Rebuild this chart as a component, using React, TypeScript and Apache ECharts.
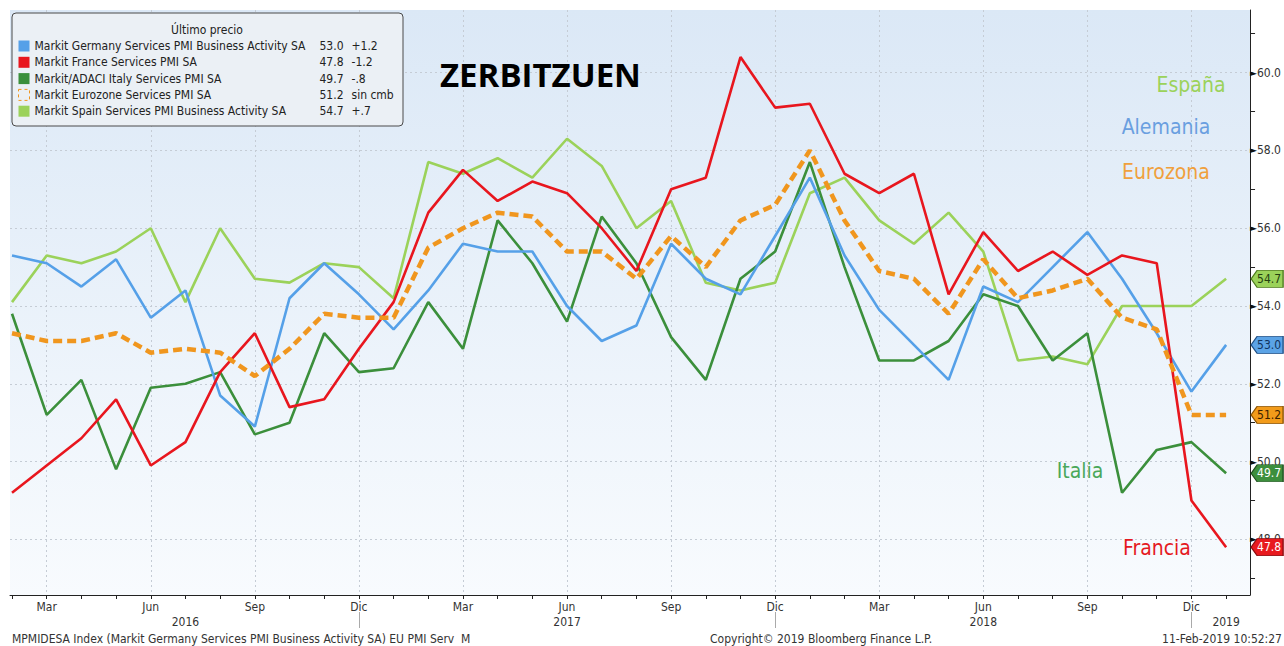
import React, { useEffect, useRef } from 'react';
import * as echarts from 'echarts';

const categories = [
  'Feb 2016', 'Mar 2016', 'Abr 2016', 'May 2016', 'Jun 2016', 'Jul 2016', 'Ago 2016', 'Sep 2016', 'Oct 2016', 'Nov 2016', 'Dic 2016',
  'Ene 2017', 'Feb 2017', 'Mar 2017', 'Abr 2017', 'May 2017', 'Jun 2017', 'Jul 2017', 'Ago 2017', 'Sep 2017', 'Oct 2017', 'Nov 2017', 'Dic 2017',
  'Ene 2018', 'Feb 2018', 'Mar 2018', 'Abr 2018', 'May 2018', 'Jun 2018', 'Jul 2018', 'Ago 2018', 'Sep 2018', 'Oct 2018', 'Nov 2018', 'Dic 2018',
  'Ene 2019',
];

const germany = [55.3, 55.1, 54.5, 55.2, 53.7, 54.4, 51.7, 50.9, 54.2, 55.1, 54.3, 53.4, 54.4, 55.6, 55.4, 55.4, 54.0, 53.1, 53.5, 55.6, 54.7, 54.3, 55.8, 57.3, 55.3, 53.9, 53.0, 52.1, 54.5, 54.1, 55.0, 55.9, 54.7, 53.3, 51.8, 53.0];
const france = [49.2, 49.9, 50.6, 51.6, 49.9, 50.5, 52.3, 53.3, 51.4, 51.6, 52.9, 54.1, 56.4, 57.5, 56.7, 57.2, 56.9, 56.0, 54.9, 57.0, 57.3, 60.4, 59.1, 59.2, 57.4, 56.9, 57.4, 54.3, 55.9, 54.9, 55.4, 54.8, 55.3, 55.1, 49.0, 47.8];
const italy = [53.8, 51.2, 52.1, 49.8, 51.9, 52.0, 52.3, 50.7, 51.0, 53.3, 52.3, 52.4, 54.1, 52.9, 56.2, 55.1, 53.6, 56.3, 55.1, 53.2, 52.1, 54.7, 55.4, 57.7, 55.0, 52.6, 52.6, 53.1, 54.3, 54.0, 52.6, 53.3, 49.2, 50.3, 50.5, 49.7];
const eurozone = [53.3, 53.1, 53.1, 53.3, 52.8, 52.9, 52.8, 52.2, 52.9, 53.8, 53.7, 53.7, 55.5, 56.0, 56.4, 56.3, 55.4, 55.4, 54.7, 55.8, 55.0, 56.2, 56.6, 58.0, 56.2, 54.9, 54.7, 53.8, 55.2, 54.2, 54.4, 54.7, 53.7, 53.4, 51.2, 51.2];
const spain = [54.1, 55.3, 55.1, 55.4, 56.0, 54.1, 56.0, 54.7, 54.6, 55.1, 55.0, 54.2, 57.7, 57.4, 57.8, 57.3, 58.3, 57.6, 56.0, 56.7, 54.6, 54.4, 54.6, 56.9, 57.3, 56.2, 55.6, 56.4, 55.4, 52.6, 52.7, 52.5, 54.0, 54.0, 54.0, 54.7];

const seriesNames = [
  'Markit Germany Services PMI Business Activity SA',
  'Markit France Services PMI SA',
  'Markit/ADACI Italy Services PMI SA',
  'Markit Eurozone Services PMI SA',
  'Markit Spain Services PMI Business Activity SA',
];
const lastPrices = ['53.0', '47.8', '49.7', '51.2', '54.7'];
const changes = ['+1.2', '-1.2', '-.8', 'sin cmb', '+.7'];

const yLabelValues = [48, 50, 52, 54, 56, 58, 60];
const yMinorTicks = [47, 49, 51, 53, 55, 57, 59, 61];
const quarterMonths = ['Mar', 'Jun', 'Sep', 'Dic'];
const yearLabelIdx = [5, 16, 28, 35];
const yearDividerIdx = [10, 22, 34];

const countryLabels = ['España', 'Alemania', 'Eurozona', 'Italia', 'Francia'];

const FONT = '"DejaVu Sans Condensed", "Liberation Sans Narrow", "DejaVu Sans", sans-serif';
const TAG_PATH = 'path://M0,8.5L6,0L32,0L32,17L6,17Z';

export default function App() {
  const ref = useRef<HTMLDivElement>(null);

  useEffect(() => {
    if (!ref.current) return;
    const chart = echarts.init(ref.current, undefined, { renderer: 'svg', width: 1284, height: 646 });

    const idx = categories.map((_, i) => i);
    const quarterIdx = idx.filter((i) => quarterMonths.includes(categories[i].split(' ')[0]));
    const labelIdx = Array.from(new Set([...quarterIdx, ...yearLabelIdx])).sort((a, b) => a - b);

    const xMin = -0.058;
    const xMax = 35.69;
    const yMin = 46.57;
    const yMax = 61.61;

    const colors = ['#55a0e8', '#e8161e', '#3b8f3b', '#f0961e', '#9bd25a'];
    const tagFill = ['#5ba3e6', '#e81a1f', '#3d8f3d', '#f29b1a', '#9bd25a'];
    const tagBorder = ['#1f4f85', '#8a0c10', '#1d4d1d', '#8a5200', '#4d7a1c'];
    const tagText = ['#10335e', '#ffffff', '#ffffff', '#3a2200', '#244010'];
    const allData = [germany, france, italy, eurozone, spain];

    const mkSeries = (i: number) => ({
      name: seriesNames[i],
      type: 'line',
      xAxisIndex: 0,
      yAxisIndex: 0,
      data: allData[i].map((v, k) => [k, v]),
      showSymbol: false,
      symbol: 'none',
      clip: false,
      z: i === 3 ? 6 : 3,
      lineStyle: {
        color: colors[i],
        width: i === 3 ? 4.5 : 2.6,
        type: i === 3 ? [9, 5] : 'solid',
      },
      itemStyle: { color: colors[i] },
      markPoint: {
        silent: true,
        symbol: TAG_PATH,
        symbolSize: [32, 17],
        symbolOffset: [41, 0],
        z: 8,
        itemStyle: { color: tagFill[i], borderColor: tagBorder[i], borderWidth: 1 },
        label: {
          show: true,
          position: 'inside',
          offset: [2, 0],
          formatter: (p: any) => Number(p.value).toFixed(1),
          color: tagText[i],
          fontSize: 12,
          fontFamily: FONT,
        },
        data: [{ coord: [allData[i].length - 1, allData[i][allData[i].length - 1]], value: allData[i][allData[i].length - 1] }],
      },
    });

    const xBase = { type: 'value', min: xMin, max: xMax, gridIndex: 0 };
    const yBase = { type: 'value', min: yMin, max: yMax, gridIndex: 0, position: 'right' };

    const option: any = {
      animation: false,
      grid: {
        left: 10,
        right: 33,
        top: 10,
        bottom: 51,
        show: true,
        borderWidth: 0,
        backgroundColor: new echarts.graphic.LinearGradient(0, 0, 0, 1, [
          { offset: 0, color: '#dbe8f6' },
          { offset: 1, color: '#f8fbfe' },
        ]),
      },
      xAxis: [
        {
          ...xBase,
          position: 'bottom',
          axisLine: { show: true, onZero: false, lineStyle: { color: '#222', width: 1 } },
          axisTick: { show: true, customValues: idx, length: 4, lineStyle: { color: '#222' } },
          axisLabel: {
            customValues: labelIdx,
            margin: 4,
            color: '#333',
            fontSize: 12,
            lineHeight: 15,
            fontFamily: FONT,
            formatter: (v: number) => {
              const i = Math.round(v);
              const parts = categories[i].split(' ');
              const top = quarterIdx.includes(i) ? parts[0] : ' ';
              return yearLabelIdx.includes(i) ? top + '\n' + parts[1] : top;
            },
          },
          splitLine: { show: false },
        },
        {
          ...xBase,
          position: 'bottom',
          offset: 17,
          axisLine: { show: false, onZero: false },
          axisTick: { show: true, customValues: yearDividerIdx, length: 16, lineStyle: { color: '#aaa' } },
          axisLabel: { show: false },
          splitLine: { show: false },
        },
        {
          ...xBase,
          position: 'top',
          axisLine: { show: false, onZero: false },
          axisTick: { show: false, customValues: quarterIdx },
          axisLabel: { show: false },
          splitLine: { show: true, lineStyle: { color: '#c5ccd5', width: 1, type: [2, 3] } },
        },
      ],
      yAxis: [
        {
          ...yBase,
          axisLine: { show: true, onZero: false, lineStyle: { color: '#222', width: 1 } },
          axisTick: { show: true, customValues: yMinorTicks, length: 5, lineStyle: { color: '#222' } },
          axisLabel: {
            customValues: yLabelValues,
            margin: 0,
            color: '#333',
            fontSize: 12,
            fontFamily: FONT,
            formatter: (v: number) => '{a|►}' + v.toFixed(1),
            rich: { a: { fontSize: 9, color: '#111', fontFamily: 'DejaVu Sans', padding: [0, 0, 0, 0] } },
          },
          splitLine: { show: false },
        },
        {
          ...yBase,
          axisLine: { show: false, onZero: false },
          axisTick: { show: false, customValues: yLabelValues },
          axisLabel: { show: false },
          splitLine: { show: true, lineStyle: { color: '#c5ccd5', width: 1, type: [2, 3] } },
        },
      ],
      legend: {
        orient: 'vertical',
        left: 13,
        top: 35,
        itemWidth: 11,
        itemHeight: 11,
        itemGap: 4.3,
        icon: 'rect',
        selectedMode: false,
        z: 6,
        data: seriesNames.map((n, i) =>
          i === 3
            ? { name: n, itemStyle: { color: 'rgba(0,0,0,0)', borderColor: '#f0961e', borderWidth: 1, borderType: [3, 3] } }
            : { name: n }
        ),
        formatter: (name: string) => {
          const i = seriesNames.indexOf(name);
          return `{n|${name}}{v|${lastPrices[i]}}{c|${changes[i]}}`;
        },
        textStyle: {
          fontFamily: FONT,
          fontSize: 12,
          color: '#222',
          lineHeight: 12,
          rich: {
            n: { width: 285, fontFamily: FONT, fontSize: 12, color: '#222' },
            v: { width: 32, fontFamily: FONT, fontSize: 12, color: '#222' },
            c: { fontFamily: FONT, fontSize: 12, color: '#222' },
          },
        },
      },
      graphic: [
        {
          type: 'rect',
          z: 5,
          shape: { x: 12, y: 13, width: 391, height: 113, r: 4 },
          style: { fill: '#ebf0f5', stroke: '#4a4a4a', lineWidth: 1 },
        },
        {
          type: 'text',
          z: 7,
          x: 207,
          y: 30,
          style: { text: 'Último precio', fill: '#222', font: `12px ${FONT}`, textAlign: 'center', textVerticalAlign: 'middle' },
        },
        {
          type: 'text',
          z: 7,
          x: 440,
          y: 74,
          style: { text: 'ZERBITZUEN', fill: '#000', font: `bold 33px "Open Sans", sans-serif`, textAlign: 'left', textVerticalAlign: 'middle' },
        },
        { type: 'text', z: 7, x: 1191, y: 85, style: { text: countryLabels[0], fill: '#9bd25a', font: `21px ${FONT}`, textAlign: 'center', textVerticalAlign: 'middle' } },
        { type: 'text', z: 7, x: 1166, y: 127, style: { text: countryLabels[1], fill: '#6a9fe0', font: `21px ${FONT}`, textAlign: 'center', textVerticalAlign: 'middle' } },
        { type: 'text', z: 7, x: 1166, y: 172, style: { text: countryLabels[2], fill: '#f0a03c', font: `21px ${FONT}`, textAlign: 'center', textVerticalAlign: 'middle' } },
        { type: 'text', z: 7, x: 1080, y: 471, style: { text: countryLabels[3], fill: '#4aa85a', font: `21px ${FONT}`, textAlign: 'center', textVerticalAlign: 'middle' } },
        { type: 'text', z: 7, x: 1157, y: 548, style: { text: countryLabels[4], fill: '#e5191f', font: `21px ${FONT}`, textAlign: 'center', textVerticalAlign: 'middle' } },
        {
          type: 'text', z: 7, x: 12, y: 639,
          style: { text: 'MPMIDESA Index (Markit Germany Services PMI Business Activity SA) EU PMI Serv  M', fill: '#333', font: `12px ${FONT}`, textAlign: 'left', textVerticalAlign: 'middle' },
        },
        {
          type: 'text', z: 7, x: 710, y: 639,
          style: { text: 'Copyright© 2019 Bloomberg Finance L.P.', fill: '#333', font: `12px ${FONT}`, textAlign: 'left', textVerticalAlign: 'middle' },
        },
        {
          type: 'text', z: 7, x: 1282, y: 639,
          style: { text: '11-Feb-2019 10:52:27', fill: '#333', font: `12px ${FONT}`, textAlign: 'right', textVerticalAlign: 'middle' },
        },
      ],
      series: [mkSeries(4), mkSeries(2), mkSeries(0), mkSeries(1), mkSeries(3)],
    };

    chart.setOption(option);
    return () => chart.dispose();
  }, []);

  return <div ref={ref} style={{ position: 'fixed', left: 0, top: 0, width: 1284, height: 646, background: '#fff' }} />;
}
